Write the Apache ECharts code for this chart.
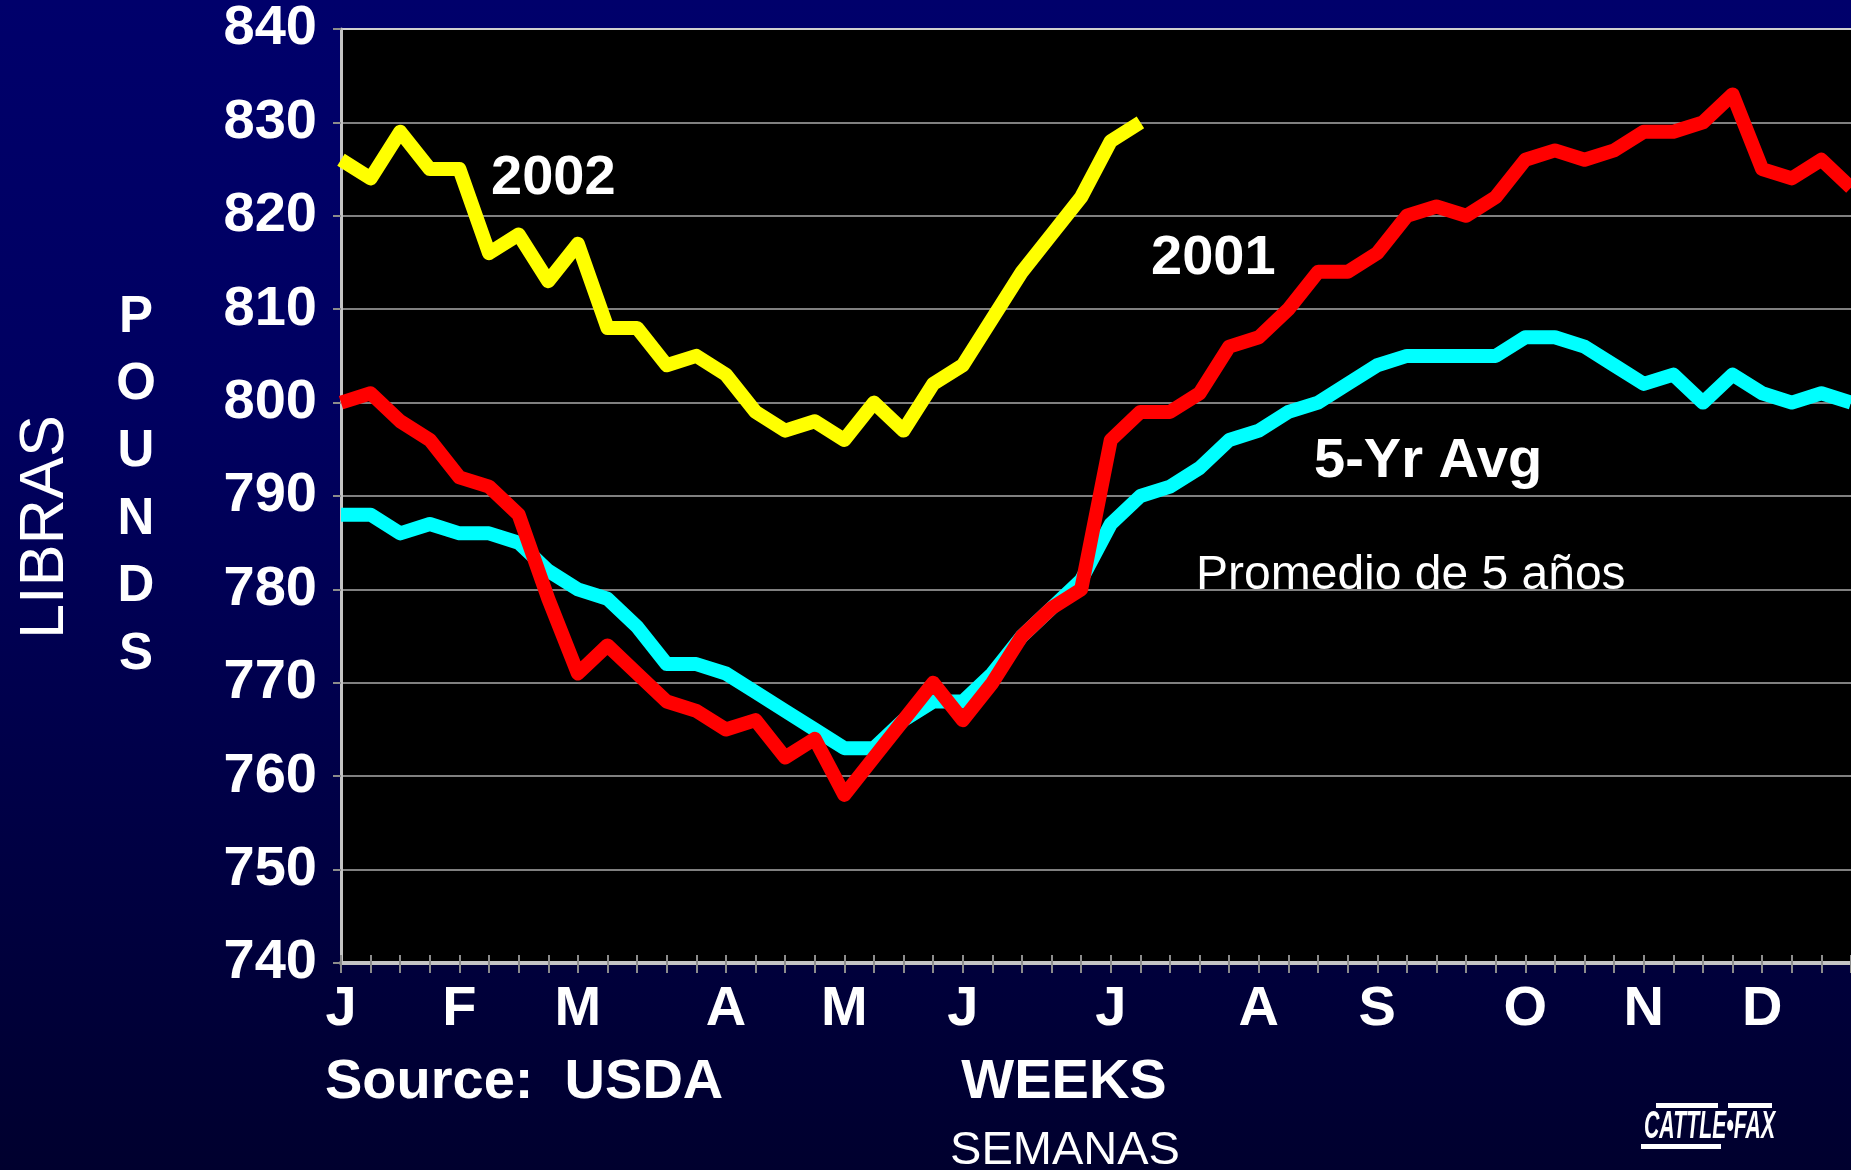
<!DOCTYPE html>
<html>
<head>
<meta charset="utf-8">
<script src="https://cdn.jsdelivr.net/npm/echarts@6/dist/echarts.min.js"></script>
<style>
  html, body { margin: 0; padding: 0; }
  #chart {
    width: 1851px; height: 1170px;
    background: linear-gradient(#00006b, #000060 35%, #00002e);
  }
</style>
</head>
<body>
<div id="chart"></div>
<script>
// semanas del año
var weeks = [];
for (var w = 1; w <= 52; w++) weeks.push(String(w));

// donde va la letra del mes (indice de semana)
var monthWeeks = [0, 4, 8, 13, 17, 21, 26, 31, 35, 40, 44, 48];
var monthLetters = ['J', 'F', 'M', 'A', 'M', 'J', 'J', 'A', 'S', 'O', 'N', 'D'];

var yTicks = [740, 750, 760, 770, 780, 790, 800, 810, 820, 830, 840];

var avg5yr = [788, 788, 786, 787, 786, 786, 785, 782, 780, 779, 776, 772, 772, 771, 769, 767,
  765, 763, 763, 766, 768, 768, 771, 775, 778, 781, 787, 790, 791, 793, 796, 797,
  799, 800, 802, 804, 805, 805, 805, 805, 807, 807, 806, 804, 802, 803, 800, 803,
  801, 800, 801, 800];

var y2001 = [800, 801, 798, 796, 792, 791, 788, 779, 771, 774, 771, 768, 767, 765, 766, 762,
  764, 758, 762, 766, 770, 766, 770, 775, 778, 780, 796, 799, 799, 801, 806, 807,
  810, 814, 814, 816, 820, 821, 820, 822, 826, 827, 826, 827, 829, 829, 830, 833,
  825, 824, 826, 823];

var y2002 = [826, 824, 829, 825, 825, 816, 818, 813, 817, 808, 808, 804, 805, 803, 799, 797,
  798, 796, 800, 797, 802, 804, 809, 814, 818, 822, 828, 830];

var FONT = '"Liberation Sans", Arial, sans-serif';

function txt(text, x, y, size, weight, align, extra) {
  var el = {
    type: 'text', x: x, y: y, z: 100,
    style: {
      text: text, fill: '#fff',
      font: weight + ' ' + size + 'px ' + FONT,
      textAlign: align, textVerticalAlign: 'middle',
      align: align, verticalAlign: 'middle'
    }
  };
  if (extra) for (var k in extra) el[k] = extra[k];
  return el;
}

var myChart = echarts.init(document.getElementById('chart'));
var gridColors = yTicks.map(function (v) { return v === 840 ? '#d0d0d0' : '#808080'; });

option = {
  backgroundColor: 'transparent',
  animation: false,
  grid: {
    left: 341, top: 29, right: -4, bottom: 207,
    show: true, backgroundColor: '#000', borderWidth: 0
  },
  xAxis: [{
    type: 'category', data: weeks, boundaryGap: false,
    axisLine: { lineStyle: { color: '#c4c4c4', width: 4 } },
    axisTick: { show: true, interval: 0, length: 10, lineStyle: { color: '#8c8c8c', width: 2 } },
    axisLabel: {
      interval: function (i) { return monthWeeks.indexOf(i) >= 0; },
      formatter: function (v, i) { return monthLetters[monthWeeks.indexOf(i)] || ''; },
      color: '#fff', fontFamily: FONT, fontWeight: 'bold', fontSize: 56, margin: 19
    },
    splitLine: { show: false }
  }, {
    // marcas hacia adentro
    type: 'category', data: weeks, boundaryGap: false, position: 'bottom',
    axisLine: { show: false },
    axisTick: { show: true, inside: true, interval: 0, length: 8, lineStyle: { color: '#8c8c8c', width: 2 } },
    axisLabel: { show: false },
    splitLine: { show: false }
  }],
  yAxis: {
    type: 'value', min: 740, max: 840, interval: 10,
    axisLine: { show: true, lineStyle: { color: '#c4c4c4', width: 3 } },
    axisTick: { show: true, length: 8, lineStyle: { color: '#8c8c8c', width: 2 } },
    axisLabel: { color: '#fff', fontFamily: FONT, fontWeight: 'bold', fontSize: 56, margin: 24 },
    splitLine: { lineStyle: { color: gridColors, width: 2 } }
  },
  series: [{
    name: '5-Yr Avg', type: 'line', data: avg5yr, symbol: 'none',
    lineStyle: { color: '#00ffff', width: 14, join: 'round' }
  }, {
    name: '2001', type: 'line', data: y2001, symbol: 'none',
    lineStyle: { color: '#ff0000', width: 14, join: 'round' }
  }, {
    name: '2002', type: 'line', data: y2002, symbol: 'none',
    lineStyle: { color: '#ffff00', width: 14, join: 'round' }
  }],
  graphic: [
    txt('2002', 491, 179, 56, 'bold', 'left'),
    txt('2001', 1151, 259, 56, 'bold', 'left'),
    txt('5-Yr Avg', 1314, 462, 56, 'bold', 'left'),
    txt('Promedio de 5 años', 1196, 576, 48, 'normal', 'left'),
    txt('Source:  USDA', 325, 1083, 56, 'bold', 'left'),
    txt('WEEKS', 1064, 1083, 56, 'bold', 'center'),
    txt('SEMANAS', 1065, 1151, 47, 'normal', 'center'),
    txt('LIBRAS', 46, 527, 63, 'normal', 'center', { rotation: Math.PI / 2 }),
    {
      type: 'text', x: 136, y: 486, z: 100,
      style: {
        text: 'P\nO\nU\nN\nD\nS', fill: '#fff', lineHeight: 67.4,
        font: 'bold 51px ' + FONT,
        textAlign: 'center', textVerticalAlign: 'middle', align: 'center', verticalAlign: 'middle'
      }
    },
    // logo Cattle-Fax
    txt('CATTLE•FAX', 1644, 1128, 38, 'italic bold', 'left', { scaleX: 0.56, scaleY: 1.0 }),
    { type: 'rect', shape: { x: 1656, y: 1103, width: 62, height: 5 }, style: { fill: '#fff' }, z: 100 },
    { type: 'rect', shape: { x: 1728, y: 1103, width: 44, height: 5 }, style: { fill: '#fff' }, z: 100 },
    { type: 'rect', shape: { x: 1641, y: 1144, width: 80, height: 5 }, style: { fill: '#fff' }, z: 100 }
  ]
};
myChart.setOption(option);
</script>
</body>
</html>
